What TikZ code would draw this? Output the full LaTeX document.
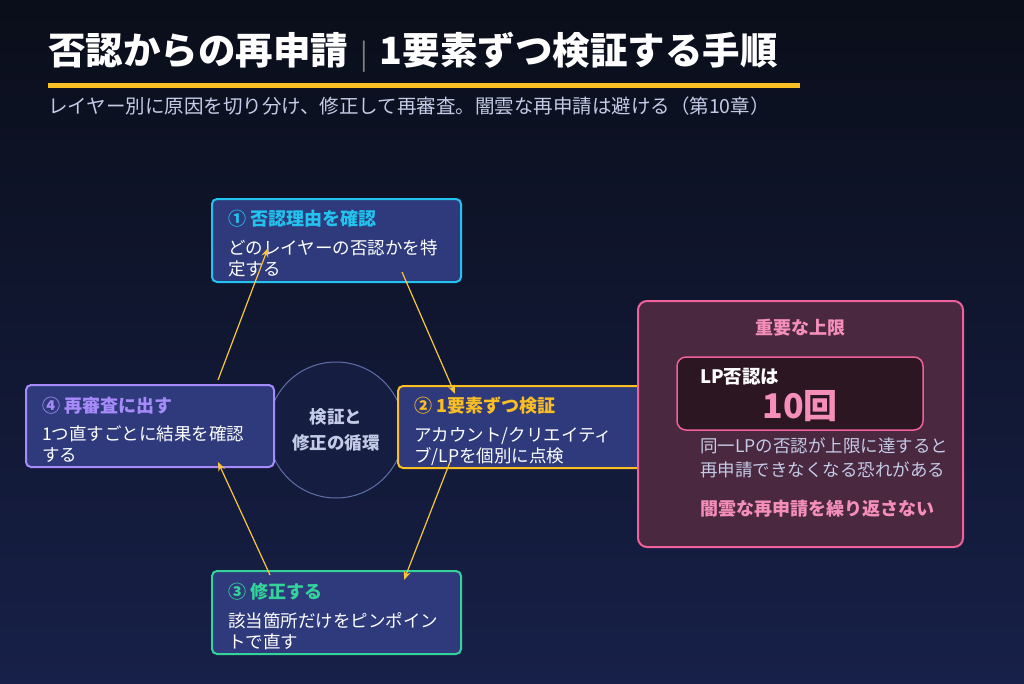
\documentclass[tikz,border=0pt]{standalone}
\usepackage{fontspec}
\setmainfont{Noto Sans CJK JP}
\usetikzlibrary{arrows.meta}
\definecolor{bgtop}{HTML}{0A0E1A}
\definecolor{bgbot}{HTML}{172048}
\definecolor{boxfill}{HTML}{2E3A7C}
\definecolor{cy}{HTML}{22C3EE}
\definecolor{or}{HTML}{FBBF24}
\definecolor{gr}{HTML}{34D399}
\definecolor{pu}{HTML}{A78BFA}
\definecolor{pk}{HTML}{F0609A}
\definecolor{pktext}{HTML}{F58FBA}
\definecolor{sub}{HTML}{C3CBE6}
\definecolor{ring}{HTML}{5E6FA8}
\begin{document}
\begin{tikzpicture}[x=1pt,y=-1pt,
  step/.style={draw=#1,line width=2pt,rounded corners=5pt,fill=boxfill},
  ttl/.style={anchor=west,font=\bfseries\fontsize{18}{20}\selectfont,inner sep=0pt},
  bod/.style={anchor=north west,align=left,text=white,font=\fontsize{17.5}{21}\selectfont,inner sep=0pt},
  arr/.style={draw=or!90!white,line width=1.2pt,-{Stealth[length=9pt,width=7pt]}}]
\useasboundingbox (0,0) rectangle (1024,683);
\shade[top color=bgtop,bottom color=bgbot] (0,0) rectangle (1024,683);
\node[anchor=west,text=white,font=\bfseries\fontsize{37.5}{40}\selectfont,inner sep=0pt] (title) at (48,52) {否認からの再申請\hspace{12pt}{\color{gray}\fontsize{28}{28}\selectfont\mdseries|}\hspace{12pt}1要素ずつ検証する手順};
\draw[or,line width=5pt] (48,85) -- (800,85);
\node[anchor=west,text=sub,font=\fontsize{19.5}{22}\selectfont,inner sep=0pt] (subt) at (48,106) {レイヤー別に原因を切り分け、修正して再審査。闇雲な再申請は避ける（第10章）};
% circle
\node[circle,draw=ring,line width=1pt,fill=bgbot!90!black,minimum size=136pt,inner sep=0pt,align=center,text=sub,font=\bfseries\fontsize{17.5}{26}\selectfont] (c) at (336,430) {検証と\\修正の循環};
% boxes
\draw[step=cy] (212,199) rectangle (461,282);
\node[ttl,text=cy] (t1) at (228,219) {① 否認理由を確認};
\node[bod] (b1) at (228,240) {どのレイヤーの否認かを特\\定する};
\draw[step=or] (398,386) rectangle (650,468);
\node[ttl,text=or] (t2) at (414,406) {② 1要素ずつ検証};
\node[bod] (b2) at (414,427) {アカウント/クリエイティ\\ブ/LPを個別に点検};
\draw[step=gr] (212,571) rectangle (461,654);
\node[ttl,text=gr] (t3) at (228,592) {③ 修正する};
\node[bod] (b3) at (228,612) {該当箇所だけをピンポイン\\トで直す};
\draw[step=pu] (26,385) rectangle (274,467);
\node[ttl,text=pu] (t4) at (42,406) {④ 再審査に出す};
\node[bod] (b4) at (42,426) {1つ直すごとに結果を確認\\する};
% arrows
\coordinate (a1s) at (402,272); \coordinate (a1e) at (455,394);
\coordinate (a2s) at (450,462); \coordinate (a2e) at (404,580);
\coordinate (a3s) at (270,575); \coordinate (a3e) at (218,462);
\coordinate (a4s) at (218,380); \coordinate (a4e) at (268,248);
\draw[arr] (a1s) -- (a1e);
\draw[arr] (a2s) -- (a2e);
\draw[arr] (a3s) -- (a3e);
\draw[arr] (a4s) -- (a4e);
% right panel
\draw[draw=pk,line width=2pt,rounded corners=9pt,fill={rgb,255:red,74;green,40;blue,64}] (638,301) rectangle (963,547);
\node[text=pktext,font=\bfseries\fontsize{18}{20}\selectfont] (h) at (800,328) {重要な上限};
\draw[draw=pk,line width=1.5pt,rounded corners=9pt,fill={rgb,255:red,44;green,22;blue,34}] (677,357) rectangle (923,430);
\node[anchor=west,text=white,font=\bfseries\fontsize{18.5}{20}\selectfont,inner sep=0pt] (lp) at (700,377) {LP否認は};
\node[text=pktext,font=\bfseries\fontsize{34}{36}\selectfont,inner sep=0pt] (ten) at (800,406) {10回};
\node[anchor=north west,align=left,text=sub,font=\fontsize{17.5}{24}\selectfont,inner sep=0pt] (d) at (700,437) {同一LPの否認が上限に達すると\\再申請できなくなる恐れがある};
\node[anchor=west,text=pktext,font=\bfseries\fontsize{18}{20}\selectfont,inner sep=0pt] (w) at (700,509) {闇雲な再申請を繰り返さない};
\end{tikzpicture}
\end{document}
